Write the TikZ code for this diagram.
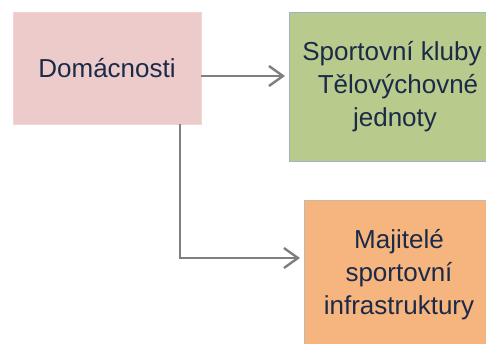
\documentclass[tikz,border=0pt]{standalone}
\usepackage{fontspec}
\setmainfont{Liberation Sans}
\usetikzlibrary{arrows.meta}
\definecolor{txtblue}{HTML}{1B2A47}
\definecolor{pinkfill}{HTML}{EDCBCB}
\definecolor{greenfill}{HTML}{B8CB8C}
\definecolor{greenedge}{HTML}{9DB3C6}
\definecolor{orangefill}{HTML}{F6B57F}
\definecolor{orangeedge}{HTML}{C9B8A8}
\definecolor{linegray}{HTML}{7F7F7F}

\begin{document}
\begin{tikzpicture}[x=1pt,y=-1pt,>={Straight Barb[length=14pt,width=20pt,line width=2.4pt]},
    font=\fontsize{26}{33}\selectfont,inner sep=0pt,outer sep=0pt,
    box/.style={text=txtblue,align=center,line width=0.8pt},
    conn/.style={->,draw=linegray,line width=2.6pt}]
    \useasboundingbox (0,0) rectangle (486,343);
    \clip (0,0) rectangle (486,343);

    \node[box,fill=pinkfill,draw=pinkfill!80!white,minimum width=188pt,minimum height=112pt] (DOM) at (107,68) {Domácnosti};
    \node[box,fill=greenfill,draw=greenedge,minimum width=206pt,minimum height=149pt] (KLUB) at (392,86.5) {Sportovní kluby\\\hspace*{12pt}Tělovýchovné\\\hspace*{6pt}jednoty};
    \node[box,fill=orangefill,draw=orangeedge,minimum width=190pt,minimum height=150pt] (MAJ) at (399,275) {Majitelé\\sportovní\\infrastruktury};

    \coordinate (bend) at (180,258);
    \draw[conn,shorten >=4pt] (DOM.east |- 0,76) -- (KLUB.west |- 0,76);
    \draw[conn,shorten >=4pt] (DOM.south -| bend) |- (MAJ.west |- bend);
\end{tikzpicture}
\end{document}
